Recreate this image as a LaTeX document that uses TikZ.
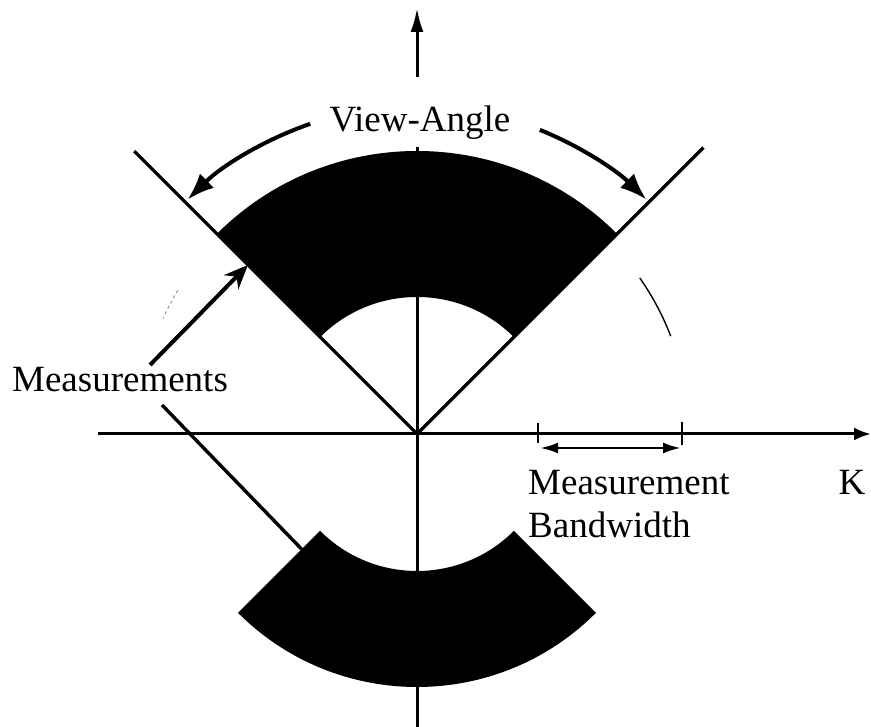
\documentclass[tikz,border=0pt]{standalone}
\usepackage{fontspec}
\setmainfont{Liberation Serif}
\usetikzlibrary{arrows.meta}
\begin{document}
\begin{tikzpicture}[x=1pt,y=1pt,
  ax/.style={line width=3pt},
  vaarc/.style={line width=4pt,-{Latex[length=27pt,width=20pt]}},
  lbl/.style={font=\fontsize{37}{43}\selectfont, inner sep=0pt},
  sector/.style={fill=black}]
\useasboundingbox (0,0) rectangle (871,727);
\coordinate (O) at (417,293);
\begin{scope}[shift={(O)}]
  % shaded annular sectors
  \fill[sector] (45:283) arc[start angle=45,end angle=135,radius=283]
     -- (135:137) arc[start angle=135,end angle=45,radius=137] -- cycle;
  \fill[sector] (225:253) arc[start angle=225,end angle=315,radius=253]
     -- (315:137) arc[start angle=315,end angle=225,radius=137] -- cycle;
  % named points
  \coordinate (UL) at (135:400);
  \coordinate (UR) at (45:405);
  \coordinate (VT) at (90:287);
  \coordinate (MTip) at (135:239);
  \coordinate (MLow) at (225:163);
  \coordinate (VL0) at (109:328);
  \coordinate (VR0) at (68:328);
  % faint circle fragments
  \draw[line width=0.8pt,gray,dash pattern=on 3pt off 3pt] (149:279) arc[start angle=149,end angle=155.5,radius=279];
  \draw[line width=1.4pt] (35:272) arc[start angle=35,end angle=21,radius=270];
  % view-angle arcs
  \draw[vaarc] (VL0) arc[start angle=109,end angle=134.4,radius=328];
  \draw[vaarc] (VR0) arc[start angle=68,end angle=45.6,radius=328];
\end{scope}
% axes
\coordinate (HL) at (98,293);
\coordinate (HR) at (871,293);
\coordinate (VB) at (417,0);
\coordinate (VA1) at (417,650);
\coordinate (VA2) at (417,719);
\draw[ax,-{Latex[length=17pt,width=13pt]}] (HL) -- (HR);
\draw[ax] (VB) -- (O) -- (VT);
\draw[ax,-{Latex[length=24pt,width=13pt]}] (VA1) -- (VA2);
% view lines
\draw[line width=3.2pt] (UL) -- (O) -- (UR);
% labels
\node[lbl,anchor=base] (va) at (420,595) {View-Angle};
\node[lbl,anchor=base] (meas) at (120,335) {Measurements};
\node[lbl,anchor=base west] (mb1) at (528,232) {Measurement};
\node[lbl,anchor=base west] (mb2) at (528,189) {Bandwidth};
\node[lbl,anchor=base] (k) at (852,232) {K};
% measurement pointers
\coordinate (MS1) at (150,362);
\coordinate (MS2) at (162,322);
\draw[line width=4pt,-{Stealth[length=24pt,width=20pt]}] (MS1) -- (MTip);
\draw[line width=3.4pt] (MS2) -- (MLow);
% bandwidth marks
\coordinate (T1a) at (538,304); \coordinate (T1b) at (538,284);
\coordinate (T2a) at (682,305); \coordinate (T2b) at (682,282);
\draw[line width=2pt] (T1a) -- (T1b);
\draw[line width=2pt] (T2a) -- (T2b);
\coordinate (BW1) at (540,279); \coordinate (BW2) at (681,279);
\draw[line width=2.8pt,{Latex[length=18pt,width=11pt]}-{Latex[length=18pt,width=11pt]}] (BW1) -- (BW2);
\end{tikzpicture}
\end{document}
